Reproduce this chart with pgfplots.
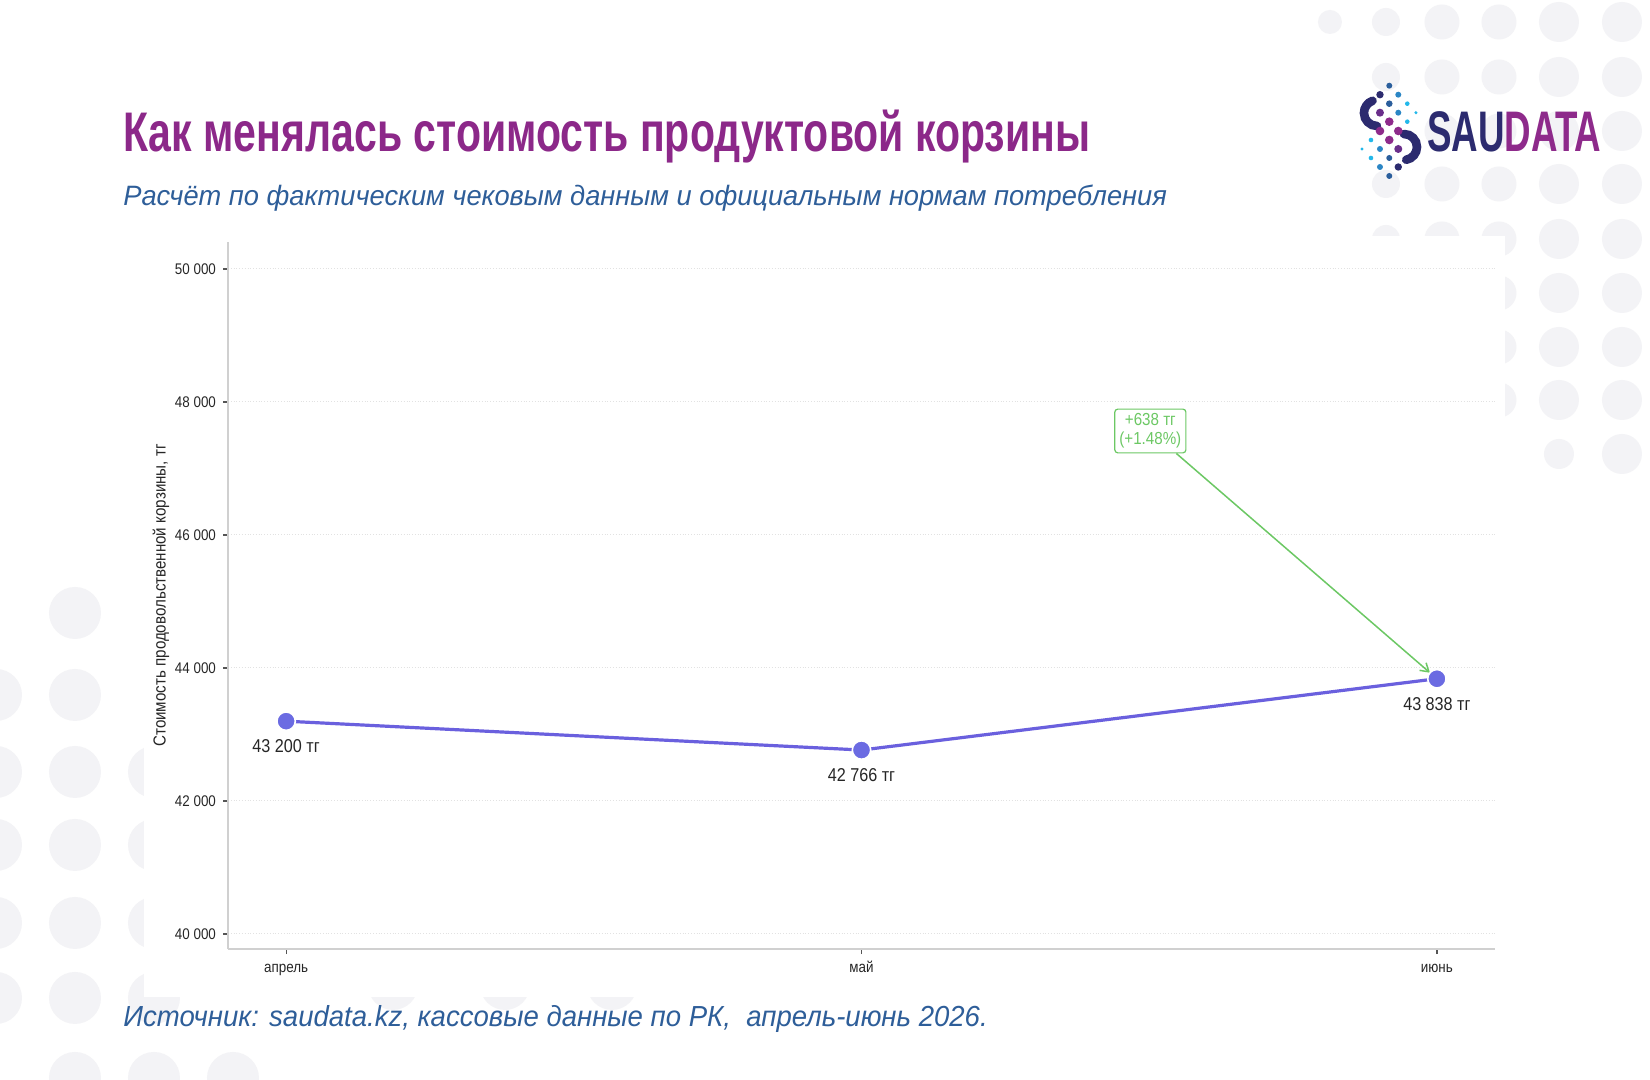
\documentclass[border=0pt]{standalone}
\usepackage{pgfplots}
\pgfplotsset{compat=1.18}
\usepackage{fontspec}
\usetikzlibrary{arrows.meta}
\setmainfont{Liberation Sans}[FakeStretch=0.87]
\newfontfamily\titlefont{Liberation Sans}[FakeStretch=0.735]
\newfontfamily\subfont{Liberation Sans}[FakeStretch=0.973]
\newfontfamily\srcfont{Liberation Sans}[FakeStretch=0.95]
\newfontfamily\logofont{Liberation Sans}[FakeStretch=0.642]
\definecolor{titlepurple}{HTML}{8C2889}
\definecolor{subblue}{HTML}{2E5E99}
\definecolor{navy}{HTML}{2C2B6F}
\definecolor{logopurple}{HTML}{8E2A8B}
\definecolor{darkpurple}{HTML}{6A2E8A}
\definecolor{iconblue}{HTML}{2A5E9C}
\definecolor{midblue}{HTML}{2B86C5}
\definecolor{cyanb}{HTML}{22B8EA}
\definecolor{dotgray}{HTML}{F3F3F6}
\definecolor{linecol}{HTML}{6A60DE}
\definecolor{markcol}{HTML}{6B6BE2}
\definecolor{annogreen}{HTML}{6CC864}
\definecolor{spinegray}{HTML}{D0D0D0}
\definecolor{gridgray}{HTML}{E2E2E2}
\definecolor{tickgray}{HTML}{555555}
\begin{document}
\begin{tikzpicture}
\path[use as bounding box, fill=white] (0,0) rectangle (825bp,540bp);
\begin{scope}
\clip (0,0) rectangle (825bp,540bp);
\begin{scope}[x=0.5bp,y=-0.5bp,yshift=540bp]
% top-right dots
\fill[dotgray] (1330,22) circle[radius=12];
\foreach \yy in {22,77,184,239} {\fill[dotgray] (1386,\yy) circle[radius=14];}
\foreach \yy in {22,77,131,184,239} {\fill[dotgray] (1442,\yy) circle[radius=17.5];}
\foreach \yy in {22,77,131,184,239,293,347,400} {\fill[dotgray] (1499,\yy) circle[radius=17.5];}
\foreach \yy in {22,77,131,184,239,293,347,400} {\fill[dotgray] (1559,\yy) circle[radius=20];}
\fill[dotgray] (1559,454) circle[radius=15];
\foreach \yy in {22,77,131,184,239,293,347,400,454} {\fill[dotgray] (1622,\yy) circle[radius=20];}
% bottom-left dots
\foreach \yy in {695,772,845,923,998} {\fill[dotgray] (-4,\yy) circle[radius=26];}
\foreach \yy in {613,695,772,845,923,998,1078} {\fill[dotgray] (75,\yy) circle[radius=26];}
\foreach \yy in {772,845,923,998,1078} {\fill[dotgray] (154,\yy) circle[radius=26];}
\fill[dotgray] (233,1078) circle[radius=26];
\foreach \xx in {393,505,612} {\fill[dotgray] (\xx,985) circle[radius=25];}
% white panel
\fill[white] (144,236) rectangle (1505,997);
% logo icon
\draw[navy, line width=4.3bp, line cap=round] (1377,113) ++(90:13) arc[start angle=90, end angle=250, radius=13];
\draw[navy, line width=4.3bp, line cap=round] (1404,147) ++(-90:13) arc[start angle=-90, end angle=80, radius=13];
\fill[iconblue] (1389.3,85.7) circle[radius=3];
\fill[navy] (1380,94.7) circle[radius=3.7];
\fill[midblue] (1398.3,94.7) circle[radius=3];
\fill[iconblue] (1389.3,103.7) circle[radius=3.3];
\fill[cyanb] (1407.3,103.7) circle[radius=2.3];
\fill[cyanb] (1416,112.7) circle[radius=1.7];
\fill[darkpurple] (1380,112.7) circle[radius=4];
\fill[midblue] (1398.3,112.7) circle[radius=3];
\fill[logopurple] (1389.3,121.7) circle[radius=4.3];
\fill[cyanb] (1407.3,121.7) circle[radius=2.3];
\fill[logopurple] (1380,131) circle[radius=4.3];
\fill[logopurple] (1398.3,131) circle[radius=4.3];
\fill[logopurple] (1389.3,140) circle[radius=4.3];
\fill[darkpurple] (1398.3,149) circle[radius=4];
\fill[midblue] (1380,149) circle[radius=3];
\fill[cyanb] (1371,140) circle[radius=2.3];
\fill[cyanb] (1362,149) circle[radius=1.7];
\fill[cyanb] (1371,158) circle[radius=2.3];
\fill[iconblue] (1389.3,158) circle[radius=3];
\fill[midblue] (1380,167) circle[radius=3];
\fill[navy] (1398.3,167) circle[radius=3.7];
\fill[iconblue] (1389.3,176) circle[radius=3];
\node[anchor=base west, inner sep=0pt, font=\logofont\bfseries\fontsize{28.6bp}{30bp}\selectfont] at (1427,152) {\textcolor{navy}{SAU}\textcolor{logopurple}{DATA}};
% titles
\node[anchor=base west, inner sep=0pt, text=titlepurple, font=\titlefont\bfseries\fontsize{27.9bp}{30bp}\selectfont] at (123,152) {Как менялась стоимость продуктовой корзины};
\node[anchor=base west, inner sep=0pt, text=subblue, font=\subfont\itshape\fontsize{14bp}{16bp}\selectfont] at (123,206) {Расчёт по фактическим чековым данным и официальным нормам потребления};
\node[anchor=base west, inner sep=0pt, text=subblue, font=\srcfont\itshape\fontsize{14.5bp}{16bp}\selectfont] at (123,1027) {Источник: saudata.kz, кассовые данные по РК,\ \ апрель-июнь 2026.};
\end{scope}
\end{scope}
\begin{axis}[
  at={(114bp,65.5bp)}, anchor=south west,
  scale only axis, width=633.5bp, height=353.5bp,
  xmin=-0.101, xmax=2.101, ymin=39774, ymax=50406,
  axis x line*=bottom, axis y line*=left,
  axis line style={draw=spinegray, line width=0.8bp},
  xtick={0,1,2}, xticklabels={апрель,май,июнь},
  ytick={40000,42000,44000,46000,48000,50000},
  scaled y ticks=false,
  tick align=outside, major tick length=2.5bp,
  tick style={draw=tickgray, line width=0.6bp},
  ymajorgrids, grid style={densely dotted, draw=gridgray, line width=0.5bp},
  yticklabel style={font=\fontsize{7.7bp}{9bp}\selectfont, text=black!85},
  xticklabel style={font=\fontsize{7.7bp}{9bp}\selectfont, text=black!85, text height=5.6bp, text depth=1.6bp},
  yticklabel={\pgfmathprintnumber[1000 sep={\ }, assume math mode=true]{\tick}},
  ylabel={Стоимость продовольственной корзины, тг},
  every axis y label/.style={at={(axis description cs:0,0.5)}, xshift=-33.5bp, rotate=90, anchor=center, font=\fontsize{8.7bp}{9bp}\selectfont, text=black!85},
  clip=false,
]
\addplot[color=linecol, line width=1.6bp, mark=*, mark size=4.6bp,
  mark options={fill=markcol, draw=white, line width=0.8bp},
  point meta=explicit symbolic, nodes near coords,
  every node near coord/.style={anchor=center, yshift=-12.5bp, font=\fontsize{9.3bp}{10bp}\selectfont, text=black!85}]
  coordinates {(0,43200) [43 200 тг] (1,42766) [42 766 тг] (2,43838) [43 838 тг]};
\node[draw=annogreen, rounded corners=1.5bp, line width=0.6bp, fill=white, text=annogreen, align=center, font=\fontsize{8.7bp}{9.4bp}\selectfont, inner xsep=2.3bp, inner ysep=2.3bp] (anno) at (axis cs:1.502,47564) {+638 тг\\(+1.48\%)};
\draw[annogreen, line width=0.75bp, -{Straight Barb[length=4bp,width=5bp]}, shorten >=4.6bp] (anno) -- (axis cs:2,43838);
\end{axis}
\end{tikzpicture}
\end{document}
